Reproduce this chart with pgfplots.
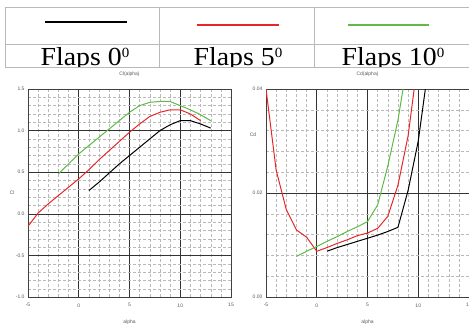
\documentclass[border=0pt]{standalone}
\usepackage{fontspec}
\setmainfont{Liberation Serif}
\newfontfamily\ls{Liberation Sans}
\usepackage{pgfplots}
\pgfplotsset{compat=1.18}
\definecolor{cred}{HTML}{E8262A}
\definecolor{cgreen}{HTML}{5DBB46}
\pgfplotsset{
  myax/.style={
    scale only axis, width=203pt, height=208pt,
    xmin=-5, xmax=15, xtick={-5,0,5,10,15}, minor x tick num=4, minor y tick num=4,
    grid=both,
    major grid style={black!80, line width=0.6pt},
    minor grid style={gray!55, densely dashed, line width=0.35pt},
    axis line style={black!75, line width=0.6pt},
    tick style={draw=none},
    ticklabel style={font=\ls\fontsize{5}{6}\selectfont, text=black!65},
    xticklabel style={yshift=-3pt},
    /pgf/number format/assume math mode=true,
    title style={font=\ls\fontsize{5}{6}\selectfont, text=black!65, at={(axis description cs:0.5,1)}, anchor=center, yshift=9pt},
    xlabel style={font=\ls\fontsize{5}{6}\selectfont, text=black!65, at={(axis description cs:0.5,-0.12)}, anchor=center},
    ylabel style={font=\ls\fontsize{5}{6}\selectfont, text=black!65, rotate=-90, anchor=center},
    xlabel={alpha},
    every axis plot/.append style={line width=1pt},
  }
}
\begin{document}
\begin{tikzpicture}[x=1pt,y=1pt]
\clip (0,0) rectangle (469,-327);
% legend table
\draw[gray!55, line width=0.9pt] (5,-7) rectangle (480,-67);
\draw[gray!55, line width=0.9pt] (5,-44) -- (480,-44);
\draw[gray!55, line width=0.9pt] (159,-7) -- (159,-67);
\draw[gray!55, line width=0.9pt] (314,-7) -- (314,-67);
\draw[black, line width=2pt] (45,-22) -- (127,-22);
\draw[cred, line width=1.8pt] (197,-25) -- (279,-25);
\draw[cgreen, line width=1.8pt] (348,-25) -- (429,-25);
\begin{scope}
\clip (5,-44.5) rectangle (480,-66.5);
\node[anchor=base, inner sep=0pt, xscale=1.07] at (85,-65) {\fontsize{26}{26}\selectfont Flaps 0\raisebox{8pt}{\fontsize{14}{14}\selectfont 0}};
\node[anchor=base, inner sep=0pt, xscale=1.07] at (238,-65) {\fontsize{26}{26}\selectfont Flaps 5\raisebox{8pt}{\fontsize{14}{14}\selectfont 0}};
\node[anchor=base, inner sep=0pt, xscale=1.07] at (393,-65) {\fontsize{26}{26}\selectfont Flaps 10\raisebox{8pt}{\fontsize{14}{14}\selectfont 0}};
\end{scope}
% Cl plot
\begin{axis}[myax, at={(28pt,-297pt)}, anchor=south west,
  ymin=-1, ymax=1.5, ytick={-1,-0.5,0,0.5,1,1.5},
  yticklabel style={/pgf/number format/.cd, fixed, fixed zerofill, precision=1},
  title={Cl(alpha)}, ylabel={Cl},
  ylabel style={at={(axis description cs:-0.078,0.5)}}]
\addplot[black] coordinates {(1,0.28)(2,0.38)(3,0.49)(4,0.6)(5,0.7)(6,0.8)(7,0.9)(8,1.0)(9,1.07)(10,1.12)(11,1.12)(12,1.08)(13,1.03)};
\addplot[cred] coordinates {(-5,-0.15)(-4,0.01)(-3,0.12)(-2,0.22)(-1,0.32)(0,0.42)(1,0.53)(2,0.65)(3,0.76)(4,0.87)(5,0.98)(6,1.08)(7,1.17)(8,1.22)(9,1.25)(10,1.25)(11,1.2)(12,1.12)};
\addplot[cgreen] coordinates {(-2,0.48)(-1,0.6)(0,0.72)(1,0.82)(2,0.92)(3,1.02)(4,1.12)(5,1.22)(6,1.3)(7,1.34)(8,1.35)(9,1.35)(10,1.3)(11,1.25)(12,1.19)(13,1.12)};
\end{axis}
% Cd plot
\begin{axis}[myax, at={(266pt,-297pt)}, anchor=south west,
  ymin=0, ymax=0.04, ytick={0,0.02,0.04}, scaled y ticks=false,
  yticklabel style={/pgf/number format/.cd, fixed, fixed zerofill, precision=2},
  title={Cd(alpha)}, ylabel={Cd},
  ylabel style={at={(axis description cs:-0.064,0.78)}}]
\addplot[black] coordinates {(1,0.0088)(2,0.0095)(3,0.0101)(4,0.0107)(5,0.0113)(6,0.0119)(7,0.0126)(8,0.0134)(9,0.0205)(10,0.03)(10.7,0.04)};
\addplot[cred] coordinates {(-5,0.04)(-4,0.0244)(-3,0.0168)(-2,0.0129)(-1,0.0115)(0,0.0088)(1,0.0095)(2,0.0103)(3,0.011)(4,0.0118)(5,0.0123)(6,0.0132)(7,0.0155)(8,0.0215)(9,0.031)(9.6,0.04)};
\addplot[cgreen] coordinates {(-2,0.0078)(-1,0.0088)(0,0.0097)(1,0.0107)(2,0.0116)(3,0.0126)(4,0.0135)(5,0.0145)(6,0.0177)(7,0.0252)(8,0.034)(8.5,0.04)};
\end{axis}
\end{tikzpicture}
\end{document}
